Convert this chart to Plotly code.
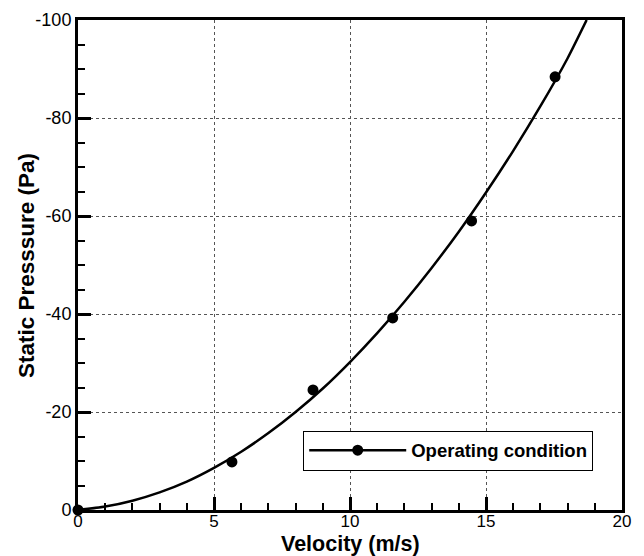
import plotly.graph_objects as go

# Measured operating points
velocity = [0.0, 5.66, 8.64, 11.57, 14.47, 17.54]
pressure = [0.0, -9.8, -24.5, -39.2, -59.0, -88.4]

# Fitted curve
curve_v = [0, 1, 2, 3, 4, 5, 6, 7, 8, 9, 10, 11, 12, 13, 14, 15, 16, 17, 18, 18.7]
curve_p = [0.0, -0.7, -1.9, -3.6, -5.8, -8.6, -11.9, -15.7, -20.0, -24.8, -30.2,
           -36.1, -42.5, -49.4, -56.8, -64.8, -73.3, -82.4, -92.2, -100.0]

x_ticks = [0, 5, 10, 15, 20]
x_labels = ["0", "5", "10", "15", "20"]
y_ticks = [0, -20, -40, -60, -80, -100]
y_labels = ["0", "-20", "-40", "-60", "-80", "-100"]

x_title = "Velocity (m/s)"
y_title = "Static Presssure (Pa)"

FONT = "Arial, Liberation Sans, sans-serif"

fig = go.Figure()
fig.add_trace(go.Scatter(x=curve_v, y=curve_p, mode="lines",
                         line=dict(color="black", width=2.5, shape="spline", smoothing=0.6),
                         showlegend=False, hoverinfo="skip"))
fig.add_trace(go.Scatter(x=velocity, y=pressure, mode="markers", marker=dict(color="black", size=11),
                         showlegend=False, cliponaxis=False))
fig.add_trace(go.Scatter(x=[None], y=[None], mode="lines+markers", name="<b>Operating condition</b>",
                         line=dict(color="black", width=2.5), marker=dict(color="black", size=11)))

axis_common = dict(
    showline=True, linecolor="black", linewidth=3, mirror=True,
    ticks="inside", ticklen=13, tickwidth=2.5, tickcolor="black",
    showgrid=True, gridcolor="#555", gridwidth=1, griddash="dot",
    zeroline=False, automargin=False,
    tickfont=dict(family=FONT, size=18, color="black"),
)

fig.update_xaxes(
    **axis_common, range=[0, 20], tickvals=x_ticks, ticktext=x_labels,
    ticklabelposition="outside", ticklabelstandoff=-6,
    minor=dict(dtick=1, ticks="inside", ticklen=7, tickwidth=1.5, tickcolor="black", showgrid=False),
)
fig.update_xaxes(tickfont=dict(size=17))
fig.update_yaxes(
    **axis_common, range=[0, -100], tickvals=y_ticks, ticktext=y_labels,
    minor=dict(dtick=5, ticks="inside", ticklen=7, tickwidth=1.5, tickcolor="black", showgrid=False),
)

fig.add_annotation(text=f"<b>{x_title}</b>", xref="paper", yref="paper", x=0.5, y=-0.069,
                   xanchor="center", yanchor="middle", showarrow=False,
                   font=dict(family=FONT, size=21.5, color="black"))
fig.add_annotation(text=f"<b>{y_title}</b>", xref="paper", yref="paper", x=-0.0956, y=0.5,
                   xanchor="center", yanchor="middle", showarrow=False, textangle=-90,
                   font=dict(family=FONT, size=22.5, color="black"))

fig.update_layout(
    width=644, height=556,
    margin=dict(l=78, r=22, t=20, b=46),
    plot_bgcolor="white", paper_bgcolor="white",
    legend=dict(x=0.414, y=0.162, xanchor="left", yanchor="top",
                bordercolor="black", borderwidth=1, bgcolor="white",
                font=dict(family=FONT, size=18.5, color="black"),
                itemwidth=97),
)

fig.write_html("out.html")
